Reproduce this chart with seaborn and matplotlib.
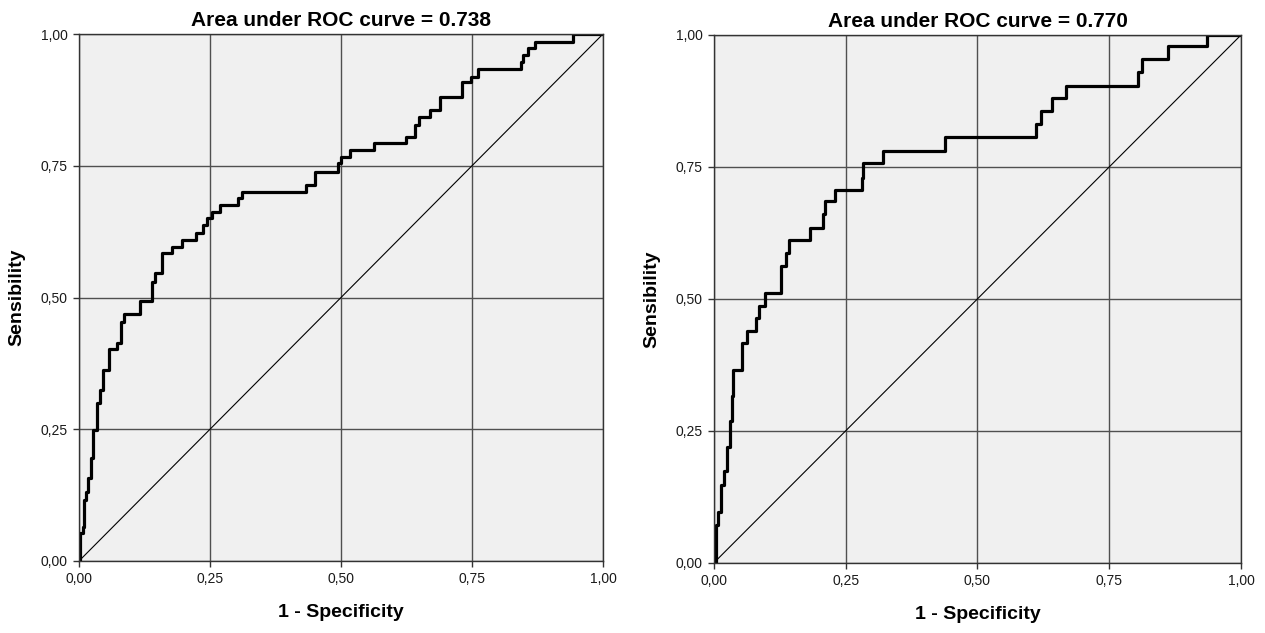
import matplotlib
matplotlib.use('Agg')
import seaborn as sns
from matplotlib import pyplot as plt
from matplotlib.ticker import FuncFormatter

# ROC staircase corners (1 - specificity, sensitivity)
fpr_left = [0.000, 0.002, 0.007, 0.009, 0.013, 0.018, 0.022, 0.027, 0.034, 0.040,
            0.046, 0.058, 0.072, 0.081, 0.086, 0.116, 0.139, 0.145, 0.158, 0.177,
            0.196, 0.223, 0.237, 0.245, 0.253, 0.269, 0.304, 0.312, 0.433, 0.450,
            0.495, 0.500, 0.518, 0.563, 0.624, 0.641, 0.648, 0.669, 0.688, 0.730,
            0.749, 0.762, 0.843, 0.848, 0.857, 0.870, 0.943, 1.000]
tpr_left = [0.000, 0.053, 0.065, 0.116, 0.130, 0.157, 0.195, 0.249, 0.300, 0.325,
            0.362, 0.402, 0.414, 0.454, 0.468, 0.494, 0.530, 0.546, 0.584, 0.596,
            0.610, 0.623, 0.638, 0.650, 0.663, 0.676, 0.688, 0.701, 0.713, 0.739,
            0.755, 0.767, 0.780, 0.793, 0.804, 0.827, 0.843, 0.856, 0.881, 0.908,
            0.919, 0.933, 0.947, 0.960, 0.973, 0.985, 1.000, 1.000]
auc_left = 0.738

fpr_right = [0.000, 0.004, 0.008, 0.013, 0.019, 0.024, 0.030, 0.035, 0.037, 0.054,
             0.062, 0.080, 0.086, 0.097, 0.127, 0.137, 0.143, 0.182, 0.207, 0.210,
             0.230, 0.280, 0.282, 0.321, 0.438, 0.611, 0.621, 0.642, 0.668, 0.805,
             0.813, 0.862, 0.936, 1.000]
tpr_right = [0.000, 0.072, 0.097, 0.147, 0.173, 0.220, 0.268, 0.315, 0.366, 0.416,
             0.440, 0.464, 0.487, 0.512, 0.562, 0.587, 0.611, 0.634, 0.660, 0.685,
             0.707, 0.729, 0.757, 0.780, 0.807, 0.831, 0.856, 0.881, 0.903, 0.930,
             0.954, 0.979, 1.000, 1.000]
auc_right = 0.770

diag = [0, 1]
ticks = [0, 0.25, 0.5, 0.75, 1.0]


def drawPanel(ax, fpr, tpr, auc):
    ax.set_facecolor('#F0F0F0')
    # chance line
    sns.lineplot(x=diag, y=diag, ax=ax, color='black', linewidth=0.8)
    sns.lineplot(x=fpr, y=tpr, ax=ax, color='black', linewidth=2.3,
                 drawstyle='steps-post', estimator=None, sort=False)
    ax.set_xlim(0, 1)
    ax.set_ylim(0, 1)
    ax.set_xticks(ticks)
    ax.set_yticks(ticks)
    fmt = FuncFormatter(lambda v, p: f'{v:.2f}'.replace('.', ','))
    ax.xaxis.set_major_formatter(fmt)
    ax.yaxis.set_major_formatter(fmt)
    ax.grid(True, color='#505050', linewidth=1.0)
    ax.set_axisbelow(True)
    for s in ax.spines.values():
        s.set_color('#333333')
        s.set_linewidth(1.0)
    ax.tick_params(bottom=True, left=True, direction='out', length=4, width=1,
                   color='#333333', labelsize=10, pad=4, labelcolor='#1a1a1a')
    ax.set_title(f'Area under ROC curve = {auc:.3f}', fontsize=15, fontweight='bold',
                 pad=6, color='black')
    ax.set_xlabel('1 - Specificity', fontsize=14, fontweight='bold', labelpad=13, color='black')
    ax.set_ylabel('Sensibility', fontsize=14, fontweight='bold', labelpad=11, color='black')


sns.set_style('white')
plt.rcParams['font.family'] = ['Liberation Sans', 'DejaVu Sans']

fig = plt.figure(figsize=(12.65, 6.33), dpi=100)
ax1 = fig.add_axes([79 / 1265, 1 - 561 / 633, 524 / 1265, 527 / 633])
ax2 = fig.add_axes([714 / 1265, 1 - 562.7 / 633, 527 / 1265, 527.7 / 633])

drawPanel(ax1, fpr_left, tpr_left, auc_left)
drawPanel(ax2, fpr_right, tpr_right, auc_right)

fig.savefig('out.png', dpi=100, facecolor='white')
